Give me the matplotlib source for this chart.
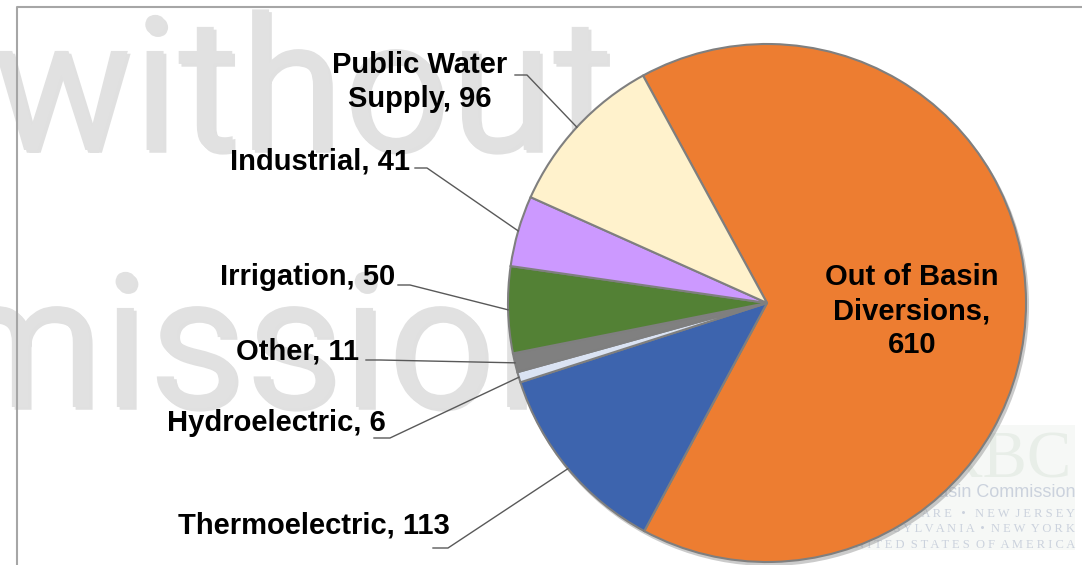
import numpy as np
import matplotlib.pyplot as plt
import matplotlib.patheffects as pe

# water use by category (clockwise from the top)
categories = ['Out of Basin Diversions', 'Thermoelectric', 'Hydroelectric', 'Other',
              'Irrigation', 'Industrial', 'Public Water Supply']
values = [610, 113, 6, 11, 50, 41, 96]
label_text = ['Out of Basin\nDiversions,\n610', 'Thermoelectric, 113', 'Hydroelectric, 6',
              'Other, 11', 'Irrigation, 50', 'Industrial, 41', 'Public Water\nSupply, 96']
colors = ['#ED7D31', '#3D64AE', '#DAE3F3', '#808080', '#538135', '#CC99FF', '#FFF2CC']

W, H = 1082, 565
def py(y):
    return H - y

fig = plt.figure(figsize=(W / 100, H / 100), dpi=100)
ax = fig.add_axes([0, 0, 1, 1])
ax.set_xlim(0, W)
ax.set_ylim(0, H)

cx, cy, r = 767, py(303), 259

def text_width(s, **kw):
    t = ax.text(0, 0, s, **kw)
    fig.canvas.draw()
    bb = t.get_window_extent()
    t.remove()
    return bb.width

# watermark behind the pie
wm = dict(fontsize=135, family='Roboto', color='#e1e1e1', va='baseline', ha='left', zorder=1,
          path_effects=[pe.withSimplePatchShadow(offset=(2, -2), shadow_rgbFace='#9a9a9a', alpha=0.3)])
x0 = 614 - text_width('without', **wm)
ax.text(x0, py(150), 'without', **wm)
x1 = 494 - text_width('missio', **wm)
ax.text(x1, py(407), 'mission', **wm)

# faint logo in the lower right
ax.add_patch(plt.Rectangle((835, py(550)), 240, 125, color='#f6f8f6', zorder=0.5, lw=0))
ax.text(1072, py(478), 'DRBC', fontsize=48, family='Liberation Serif', color='#e8eee8',
        ha='right', va='baseline', zorder=1)
ax.text(1075, py(497), 'Delaware River Basin Commission', fontsize=13, family='Liberation Sans',
        color='#cbd2dd', ha='right', va='baseline', zorder=1)
logo_lines = ['D E L A W A R E   \u2022   N E W  J E R S E Y',
              'P E N N S Y L V A N I A  \u2022  N E W  Y O R K',
              'U N I T E D  S T A T E S  O F  A M E R I C A']
for i, s in enumerate(logo_lines):
    ax.text(1075, py(517 + i * 15.5), s, fontsize=9, family='Liberation Serif',
            color='#cbd2dd', ha='right', va='baseline', zorder=1)

# soft shadow under the pie
ax.add_patch(plt.Circle((cx + 2, cy - 3), r + 1, color='#8c8c8c', alpha=0.45, zorder=1.8, lw=0))

wedges, _ = ax.pie(values, colors=colors, startangle=118.6, counterclock=False,
                   center=(cx, cy), radius=r,
                   wedgeprops=dict(edgecolor='#7f7f7f', linewidth=1.5))
for w in wedges:
    w.set_zorder(2)

# frame
ax.plot([17, 17, W + 5], [-5, py(7), py(7)], color='#a6a6a6', lw=1.5, zorder=3)

font = dict(family='Liberation Sans', fontweight='bold', fontsize=21, color='black', zorder=4)

# inner label
ax.text(912, py(353), label_text[0], ha='center', va='baseline', linespacing=1.27, **font)

# outer labels: (text x, baseline y, ha, leader start, elbow)
outer = {
    1: (450, 533, 'right', (433, 548), (448, 548)),
    2: (386, 431, 'right', (374, 438), (390, 438)),
    3: (359, 360, 'right', (366, 360), (380, 360)),
    4: (395, 285, 'right', (398, 285), (410, 285)),
    5: (410, 170, 'right', (415, 168), (427, 168)),
    6: (420, 107, 'center', (515, 75), (527, 75)),
}
for i, (tx, ty, ha, p0, p1) in outer.items():
    ax.text(tx, py(ty), label_text[i], ha=ha, va='baseline', linespacing=1.28, **font)
    w = wedges[i]
    mid = np.deg2rad((w.theta1 + w.theta2) / 2)
    ex, ey = cx + r * np.cos(mid), cy + r * np.sin(mid)
    ax.plot([p0[0], p1[0], ex], [py(p0[1]), py(p1[1]), ey], color='#595959', lw=1, zorder=3)

ax.set_aspect('auto')
ax.set_xlim(0, W)
ax.set_ylim(0, H)
ax.axis('off')

fig.savefig('out.png', dpi=100)
